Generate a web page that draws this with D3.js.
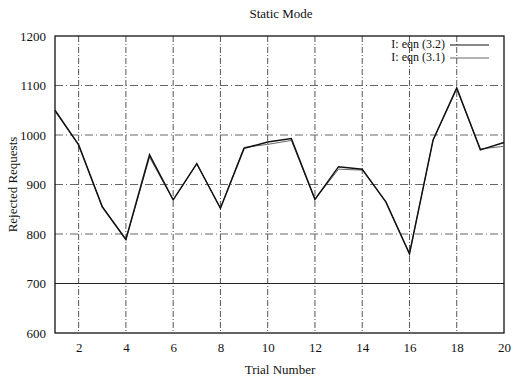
<!DOCTYPE html>
<html>
<head>
<meta charset="utf-8">
<script src="https://cdn.jsdelivr.net/npm/d3@7"></script>
<style>
  body { margin: 0; background: #fff; }
  text { font-family: "Liberation Serif", "DejaVu Serif", serif; fill: #111; }
</style>
</head>
<body>
<div id="chart"></div>
<script>
// data
let trials = d3.range(1, 21);
let eqn32 = [1050, 980, 855, 789, 960, 869, 942, 852, 973, 986, 993, 870, 936, 931, 865, 760, 990, 1095, 970, 985];
let eqn31 = [1048, 980, 855, 789, 955, 869, 942, 852, 975, 981, 989, 870, 931, 929, 865, 760, 990, 1093, 972, 977];
let xTicks = [2, 4, 6, 8, 10, 12, 14, 16, 18, 20];
let yTicks = [600, 700, 800, 900, 1000, 1100, 1200];

let width = 514;
let height = 381;
let padL = 55, padR = 504, padT = 36, padB = 333;

let svg = d3.select("#chart").append("svg")
  .attr("width", width)
  .attr("height", height);

let xScale = d3.scaleLinear().domain([1, 20]).range([padL, padR]);
let yScale = d3.scaleLinear().domain([600, 1200]).range([padB, padT]);

// grid
svg.append("g").selectAll("line").data(xTicks.slice(0, -1)).enter()
  .append("line")
  .attr("x1", d => xScale(d)).attr("x2", d => xScale(d))
  .attr("y1", padT).attr("y2", padB)
  .attr("stroke", "#555").attr("stroke-width", 1)
  .attr("stroke-dasharray", "6,2,1,2");

svg.append("g").selectAll("line").data(yTicks.slice(1, -1)).enter()
  .append("line")
  .attr("x1", padL).attr("x2", padR)
  .attr("y1", d => yScale(d)).attr("y2", d => yScale(d))
  .attr("stroke", d => d === 700 ? "#222" : "#666").attr("stroke-width", 1)
  .attr("stroke-dasharray", d => d === 700 ? null : "8,3,1,3");

// axes
let xAxis = d3.axisBottom(xScale).tickValues(xTicks).tickSize(0).tickPadding(10);
let yAxis = d3.axisLeft(yScale).tickValues(yTicks).tickSize(0).tickPadding(9)
  .tickFormat(d3.format("d"));

svg.append("g")
  .attr("transform", "translate(0," + padB + ")")
  .call(xAxis)
  .call(g => g.select(".domain").remove())
  .selectAll("text").attr("font-size", 13).style("font-family", "Liberation Serif");

svg.append("g")
  .attr("transform", "translate(" + padL + ",0)")
  .call(yAxis)
  .call(g => g.select(".domain").remove())
  .selectAll("text").attr("font-size", 13).style("font-family", "Liberation Serif");

// frame
svg.append("rect")
  .attr("x", padL).attr("y", padT)
  .attr("width", padR - padL).attr("height", padB - padT)
  .attr("fill", "none").attr("stroke", "#111").attr("stroke-width", 1.3);

// lines
let line = d3.line()
  .x((d, i) => xScale(trials[i]))
  .y(d => yScale(d));

svg.append("path").datum(eqn31)
  .attr("d", line).attr("fill", "none")
  .attr("stroke", "#666").attr("stroke-width", 1);

svg.append("path").datum(eqn32)
  .attr("d", line).attr("fill", "none")
  .attr("stroke", "#111").attr("stroke-width", 1.5);

// legend
let legend = svg.append("g");
let legendItems = [
  { name: "I: eqn (3.2)", color: "#111", w: 1.2 },
  { name: "I: eqn (3.1)", color: "#666", w: 1 }
];
legendItems.forEach(function (d, i) {
  let y = 48 + i * 13;
  legend.append("text")
    .attr("x", 445).attr("y", y)
    .attr("text-anchor", "end")
    .attr("font-size", 12)
    .text(d.name);
  legend.append("line")
    .attr("x1", 450).attr("x2", 489)
    .attr("y1", y - 3).attr("y2", y - 3)
    .attr("stroke", d.color).attr("stroke-width", d.w);
});

// labels
svg.append("text")
  .attr("x", 281).attr("y", 18)
  .attr("text-anchor", "middle")
  .attr("font-size", 13)
  .text("Static Mode");

svg.append("text")
  .attr("x", 280).attr("y", 374)
  .attr("text-anchor", "middle")
  .attr("font-size", 13)
  .text("Trial Number");

svg.append("text")
  .attr("transform", "translate(17," + ((padT + padB) / 2) + ")rotate(-90)")
  .attr("text-anchor", "middle")
  .attr("font-size", 13)
  .text("Rejected Requests");
</script>
</body>
</html>
